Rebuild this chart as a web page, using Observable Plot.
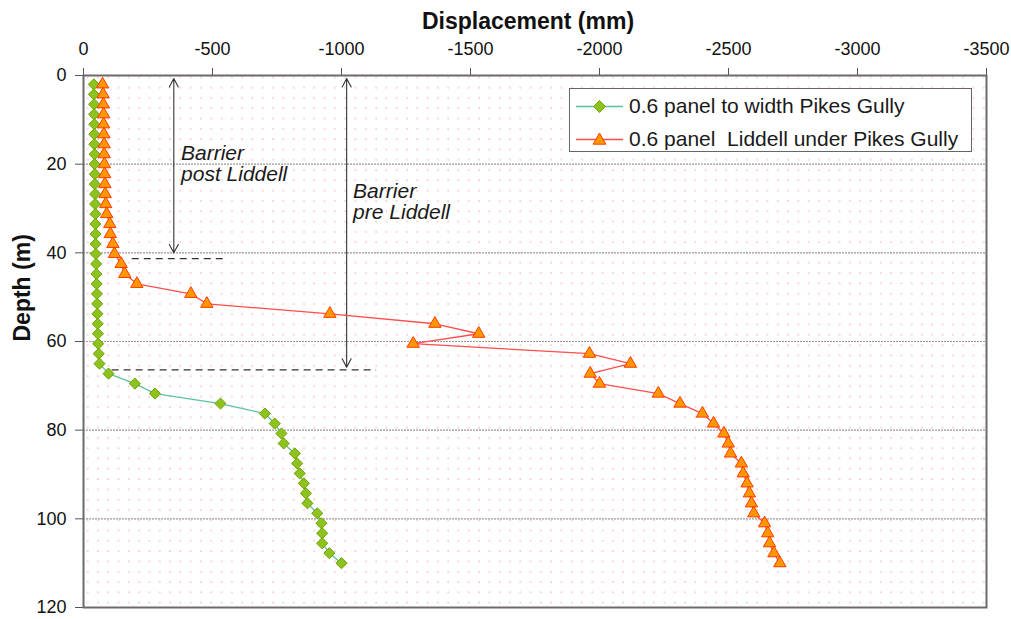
<!DOCTYPE html>
<html>
<head>
<meta charset="utf-8">
<script src="https://cdn.jsdelivr.net/npm/d3@7"></script>
<script src="https://cdn.jsdelivr.net/npm/@observablehq/plot@0.6"></script>
<style>
  body { margin: 0; background: #fff; font-family: "Liberation Sans", Arial, sans-serif; }
  #wrap { position: relative; width: 1011px; height: 619px; }
  #legend {
    position: absolute; left: 569px; top: 88px; width: 401px; height: 62px;
    border: 1.5px solid #666; background: #fff; box-sizing: content-box;
    font-size: 21px; color: #1a1a1a;
  }
  #legend .row { position: absolute; left: 6px; height: 30px; display: flex; align-items: center; white-space: pre; }
  #legend svg { margin-right: 6px; }
</style>
</head>
<body>
<svg width="0" height="0" style="position:absolute">
  <defs>
    <pattern id="dots" width="10.3" height="10.3" patternUnits="userSpaceOnUse">
      <rect x="4" y="4" width="1.6" height="1.6" fill="#f8c6c6"></rect>
    </pattern>
  </defs>
</svg>
<div id="wrap"></div>
<script>
// Depth of each survey station (m)
const depth = [2, 4.25, 6.5, 8.75, 11, 13.25, 15.5, 17.75, 20, 22.25, 24.5, 26.75, 29, 31.25,
  33.5, 35.75, 38, 40.25, 42.5, 44.75, 47, 49.25, 51.5, 53.75, 56, 58.25, 60.5, 62.75, 65,
  67.25, 69.5, 71.75, 74, 76.25, 78.5, 80.75, 83, 85.25, 87.5, 89.75, 92, 94.25, 96.5, 98.75,
  101, 103.25, 105.5, 107.75, 110];

// Displacement (mm): 0.6 panel to width Pikes Gully
const pikesGully = [-40, -40, -41, -41, -42, -42, -42, -43, -43, -44, -44, -45, -45, -46, -46,
  -47, -47, -48, -49, -50, -51, -52, -53, -54, -55, -56, -57, -59, -62, -97, -199, -277, -531,
  -703, -741, -767, -776, -819, -828, -838, -854, -862, -868, -906, -922, -925, -925, -953, -1000];

// Displacement (mm): 0.6 panel Liddell under Pikes Gully
const liddell = [-74, -76, -77, -78, -78, -79, -80, -80, -81, -82, -83, -84, -86, -90, -102, -104,
  -114, -120, -146, -160, -207, -416, -478, -955, -1362, -1532, -1278, -1961, -2120, -1964, -2000,
  -2228, -2312, -2399, -2442, -2482, -2499, -2508, -2550, -2557, -2572, -2581, -2589, -2598, -2640,
  -2652, -2659, -2676, -2699];

const seriesNames = ["0.6 panel to width Pikes Gully", "0.6 panel  Liddell under Pikes Gully"];

// Axis ticks
const xTicks = [0, -500, -1000, -1500, -2000, -2500, -3000, -3500];
const yTicks = [0, 20, 40, 60, 80, 100, 120];
const gridDepths = [20, 40, 60, 80, 100];

// Barrier annotations (displacement position, top and bottom depth, dashed limit line)
const barrierLabels = ["Barrier\npost Liddell", "Barrier\npre Liddell"];
const barrierX = [-350, -1020];
const barrierTop = [0.7, 0.7];
const barrierBottom = [40, 65.8];
const limitDepth = [41.3, 66.4];
const limitFrom = [-189, -111];
const limitTo = [-553, -1136];
const labelX = [-378, -1045];
const labelDepth = [[17.6, 22.3], [26.2, 30.9]];

const rows = depth.map((d, i) => ({depth: d, gully: pikesGully[i], liddell: liddell[i]}));

const arrows = barrierX.flatMap((x, i) => {
  const mid = (barrierTop[i] + barrierBottom[i]) / 2;
  return [
    {x, y1: mid, y2: barrierTop[i]},
    {x, y1: mid, y2: barrierBottom[i]}
  ];
});
const limits = limitDepth.map((y, i) => ({y, x1: limitFrom[i], x2: limitTo[i]}));
const labels = barrierLabels.flatMap((t, i) =>
  t.split("\n").map((line, j) => ({x: labelX[i], y: labelDepth[i][j], text: line})));

const green = {line: "#5cc29e", fill: "#8dc21f", stroke: "#6ea300"};
const red = {line: "#ff4d4d", fill: "#ff9800", stroke: "#ff3a00"};

const chart = Plot.plot({
  width: 1011,
  height: 619,
  marginTop: 75,
  marginLeft: 83,
  marginRight: 25,
  marginBottom: 12,
  style: {fontFamily: "'Liberation Sans', Arial, sans-serif", fontSize: "18px", color: "#111", background: "transparent"},
  x: {domain: [0, -3500]},
  y: {domain: [0, 120], reverse: true},
  marks: [
    Plot.frame({fill: "url(#dots)"}),
    Plot.ruleY(gridDepths, {stroke: "#9a9a9a", strokeWidth: 1.2, strokeDasharray: "2,1"}),
    Plot.axisX(xTicks, {anchor: "top", tickSize: 8, tickPadding: 13, tickFormat: d => String(d), label: null, fontSize: 18, stroke: "#555"}),
    Plot.axisY(yTicks, {anchor: "left", tickSize: 8, tickPadding: 9, tickFormat: d => String(d), label: null, fontSize: 18, stroke: "#555"}),
    Plot.text(["Displacement (mm)"], {text: d => d, frameAnchor: "top", dy: -63, dx: -7, fontWeight: "bold", fontSize: 23, fill: "#111"}),
    Plot.text(["Depth (m)"], {text: d => d, frameAnchor: "left", dx: -61, rotate: -90, fontWeight: "bold", fontSize: 23, fill: "#111"}),
    // Barrier annotations
    Plot.arrow(arrows, {x1: "x", x2: "x", y1: "y1", y2: "y2", stroke: "#333", strokeWidth: 1.1, headLength: 13, headAngle: 56}),
    Plot.ruleY(limits, {y: "y", x1: "x1", x2: "x2", stroke: "#333", strokeWidth: 1.2, strokeDasharray: "7,5"}),
    Plot.text(labels, {x: "x", y: "y", text: "text", textAnchor: "start", fontStyle: "italic", fontSize: 21, fill: "#1a1a1a"}),
    // Series
    Plot.line(rows, {x: "gully", y: "depth", stroke: green.line, strokeWidth: 1.3}),
    Plot.dot(rows, {x: "gully", y: "depth", symbol: "diamond2", r: 5, fill: green.fill, stroke: green.stroke, strokeWidth: 1}),
    Plot.line(rows, {x: "liddell", y: "depth", stroke: red.line, strokeWidth: 1.3}),
    Plot.dot(rows, {x: "liddell", y: "depth", symbol: "triangle", r: 4.6, fill: red.fill, stroke: red.stroke, strokeWidth: 1}),
    Plot.frame({stroke: "#6b6b6b", strokeWidth: 2})
  ]
});

const wrap = document.getElementById("wrap");
wrap.appendChild(chart);

// Legend box
const legend = document.createElement("div");
legend.id = "legend";
const symbolSvg = (kind) => {
  const c = kind === "gully" ? green : red;
  const shape = kind === "gully"
    ? `<path d="M23.5,1.5L29.5,7.5L23.5,13.5L17.5,7.5Z" fill="${c.fill}" stroke="${c.stroke}"/>`
    : `<path d="M23.5,1L29.8,12.2L17.2,12.2Z" fill="${c.fill}" stroke="${c.stroke}"/>`;
  return `<svg width="47" height="15"><line x1="0" x2="47" y1="7.5" y2="7.5" stroke="${c.line}" stroke-width="1.3"/>${shape}</svg>`;
};
legend.innerHTML =
  `<div class="row" style="top:2px">${symbolSvg("gully")}${seriesNames[0]}</div>` +
  `<div class="row" style="top:35px">${symbolSvg("liddell")}${seriesNames[1]}</div>`;
wrap.appendChild(legend);
</script>
</body>
</html>
